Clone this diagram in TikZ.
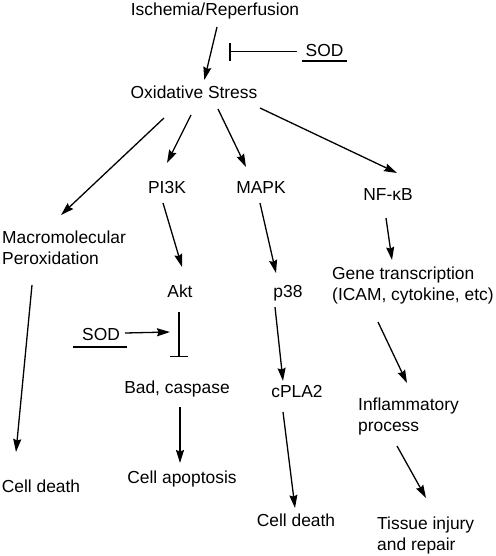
\documentclass[tikz,border=0pt]{standalone}
\usepackage{fontspec}
\setmainfont{Liberation Sans}
\usetikzlibrary{arrows.meta}
\begin{document}
\begin{tikzpicture}[x=1pt,y=-1pt,
  lbl/.style={inner sep=0pt, anchor=base, font=\fontsize{17.4}{21}\selectfont},
  lblw/.style={lbl, anchor=base west, align=left},
  arr/.style={line width=1.3pt, -{Stealth[length=13pt,width=8pt,inset=1.5pt]}},
  inh/.style={line width=1.3pt, -{Bar[width=18pt,line width=1.5pt]}},
  uline/.style={line width=1.3pt}]
\useasboundingbox (0,0) rectangle (495,556);

% labels
\node[lbl] (isch) at (215,16) {Ischemia/Reperfusion};
\node[lbl] (ox) at (194,99) {Oxidative Stress};
\node[lbl] (sodA) at (324.5,57) {SOD};
\node[lbl] (pik) at (167,193) {PI3K};
\node[lbl] (mapk) at (261,193) {MAPK};
\node[lbl] (nfkb) at (388,200) {NF-κB};
\node[lblw] (macro) at (2,264) {Macromolecular\\Peroxidation};
\node[lbl] (akt) at (180,297) {Akt};
\node[lbl] (p38) at (288,297) {p38};
\node[lblw] (gene) at (332,300) {Gene transcription\\(ICAM, cytokine, etc)};
\node[lbl] (sodB) at (101,340) {SOD};
\node[lbl] (bad) at (177,393) {Bad, caspase};
\node[lbl] (cpla) at (297,397) {cPLA2};
\node[lblw] (infl) at (358,431) {Inflammatory\\process};
\node[lbl] (cdA) at (41,492) {Cell death};
\node[lbl] (apop) at (182,483) {Cell apoptosis};
\node[lbl] (cdB) at (296,526) {Cell death};
\node[lblw] (tis) at (377,550) {Tissue injury\\and repair};

% underlines
\draw[uline] ([shift={(-3,4)}]sodA.base west) -- ([shift={(3,4)}]sodA.base east);
\draw[uline] ([shift={(-9,7)}]sodB.base west) -- ([shift={(7,7)}]sodB.base east);

% connectors
\draw[arr] ([shift={(2,11)}]isch.base) -- ([shift={(10.3,-19)}]ox.base);
\coordinate (inhA) at ([shift={(-95.5,-5.3)}]sodA.base);
\draw[inh] ([shift={(-27.5,-5.3)}]sodA.base) -- (inhA);
\draw[arr] ([shift={(-30,19)}]ox.base) -- ([shift={(59,-49)}]macro.base west);
\draw[arr] ([shift={(-3,16)}]ox.base) -- ([shift={(0,-30)}]pik.base);
\draw[arr] ([shift={(24,10)}]ox.base) -- ([shift={(-15,-26)}]mapk.base);
\draw[arr] ([shift={(66,9)}]ox.base) -- ([shift={(9,-27)}]nfkb.base);
\draw[arr] ([shift={(30,21)}]macro.base west) -- ([shift={(-25,-40)}]cdA.base);
\draw[arr] ([shift={(-4,10)}]pik.base) -- ([shift={(2,-30)}]akt.base);
\draw[arr] ([shift={(-1,10)}]mapk.base) -- ([shift={(-12,-24)}]p38.base);
\draw[arr] ([shift={(-2,18)}]nfkb.base) -- ([shift={(60,-40)}]gene.base west);
\draw[inh] ([shift={(-1,15)}]akt.base) -- ([shift={(2,-36)}]bad.base);
\coordinate (inhB) at ([shift={(-7,-61)}]bad.base);
\draw[arr] ([shift={(24,-7)}]sodB.base) -- (inhB);
\draw[arr] ([shift={(3,14)}]bad.base) -- ([shift={(-2,-20)}]apop.base);
\draw[arr] ([shift={(-13,10)}]p38.base) -- ([shift={(-14,-16)}]cpla.base);
\draw[arr] ([shift={(-14,15)}]cpla.base) -- ([shift={(-1,-18)}]cdB.base);
\draw[arr] ([shift={(46,22)}]gene.base west) -- ([shift={(49,-48)}]infl.base west);
\draw[arr] ([shift={(39,15)}]infl.base west) -- ([shift={(49,-52)}]tis.base west);
\end{tikzpicture}
\end{document}
